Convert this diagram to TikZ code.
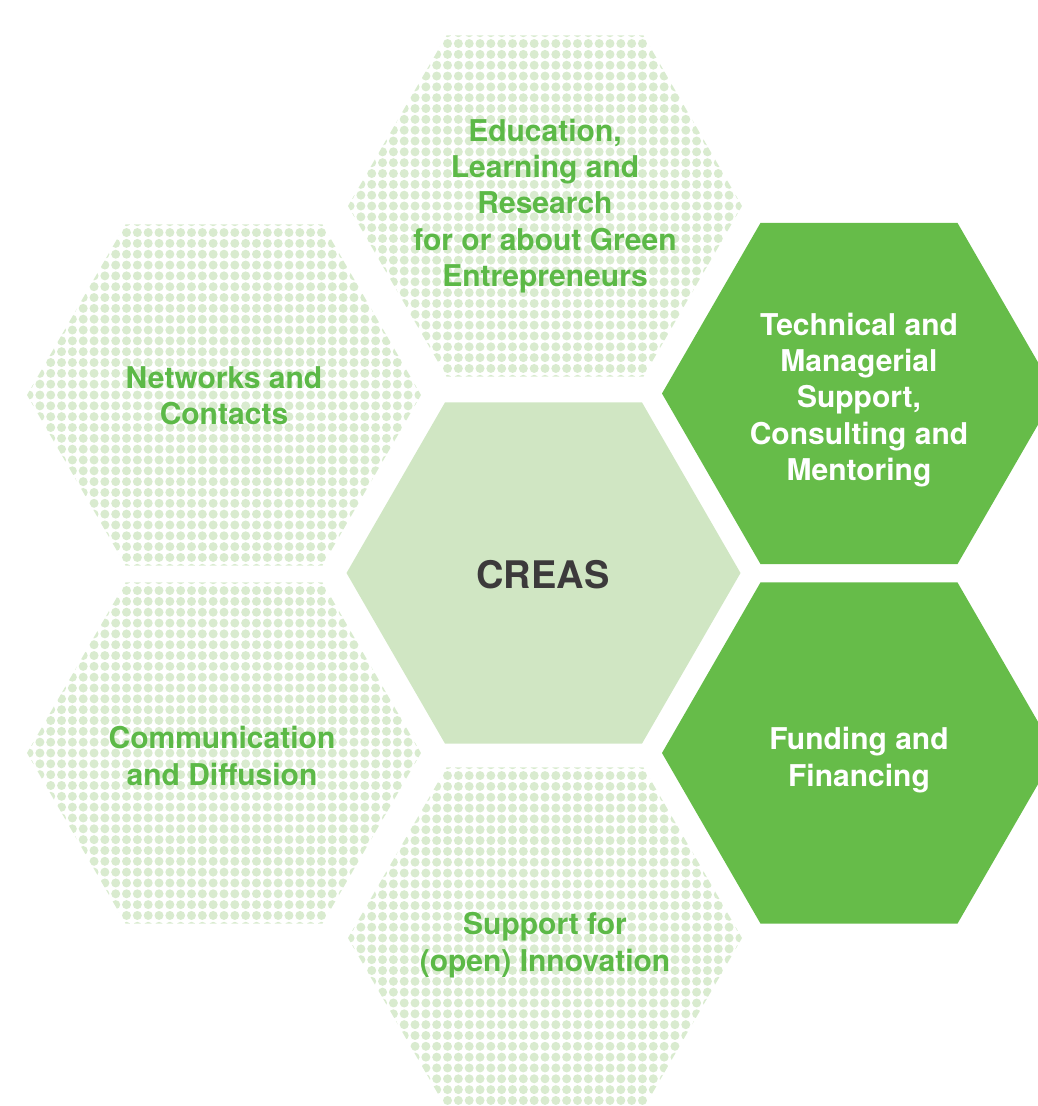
\documentclass[tikz,border=0pt]{standalone}
\usepackage{fontspec}
\setmainfont{TeX Gyre Heros}
\definecolor{dotg}{HTML}{D9EBCF}
\definecolor{ctrg}{HTML}{D0E6C3}
\definecolor{darkg}{HTML}{66BC49}
\definecolor{txtg}{HTML}{5CB947}
\definecolor{txtd}{HTML}{3C3A3B}
\newcommand\hexat[2]{%
  [shift={(#1,#2)}] (-197,0) -- (-98.5,-170.6) -- (98.5,-170.6) -- (197,0) -- (98.5,170.6) -- (-98.5,170.6) -- cycle}
\newcommand\dothex[2]{%
  \begin{scope}
    \clip \hexat{#1}{#2};
    \fill[dotg] \foreach \i in {-19,...,19} {\foreach \j in {-17,...,17} {(#1+\i*10.83,#2+\j*10.83) circle[radius=4.5pt]}};
  \end{scope}}
\begin{document}
\begin{tikzpicture}[x=1pt,y=-1pt,
  lbl/.style={align=center,font=\bfseries\fontsize{30}{36.3}\selectfont,text=txtg,inner sep=0pt},
  lblw/.style={lbl,text=white}]
\useasboundingbox (0,0) rectangle (1038,1106);
% dotted hexagons
\dothex{545}{206}
\dothex{224}{395}
\dothex{224}{753}
\dothex{545}{938}
% centre
\fill[ctrg] \hexat{543.5}{573};
% dark hexagons
\fill[darkg] \hexat{859}{393.5};
\fill[darkg] \hexat{859}{753};
% labels
\node[lbl] (edu) at (545,206) {Education,\\Learning and\\Research\\for or about Green\\Entrepreneurs};
\node[lbl] (net) at (224,396) {Networks and\\Contacts};
\node[lbl] (com) at (222,756) {Communication\\and Diffusion};
\node[lbl] (sup) at (545,945) {Support for\\(open) Innovation};
\node[lblw] (tec) at (859,400) {Technical and\\Managerial\\Support,\\Consulting and\\Mentoring};
\node[lblw] (fun) at (859,760) {Funding and\\Financing};
\node[inner sep=0pt,text=txtd,font=\bfseries\fontsize{38}{40}\selectfont] (creas) at (543,575) {CREAS};
\end{tikzpicture}
\end{document}
